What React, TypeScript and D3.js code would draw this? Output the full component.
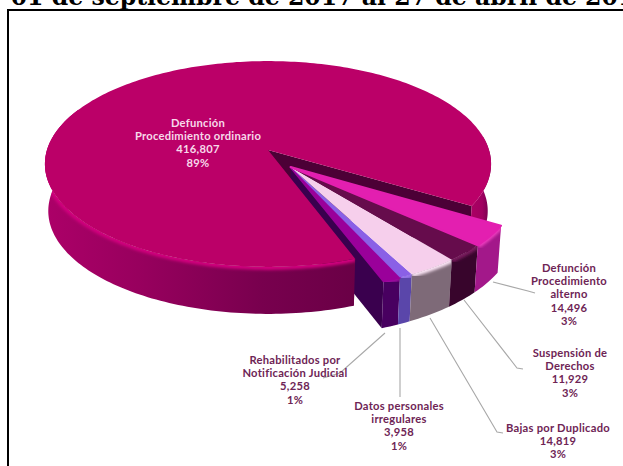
import React from "react";
import * as d3 from "d3";

// Folios by cause of cancellation, in drawing order (clockwise from the right).
const categories = [
  "Defunción Procedimiento alterno",
  "Suspensión de Derechos",
  "Bajas por Duplicado",
  "Datos personales irregulares",
  "Rehabilitados por Notificación Judicial",
  "Defunción Procedimiento ordinario",
];
const values = [14496, 11929, 14819, 3958, 5258, 416807];
const percents = ["3%", "3%", "3%", "1%", "1%", "89%"];
const labelLines = [
  ["Defunción", "Procedimiento", "alterno"],
  ["Suspensión de", "Derechos"],
  ["Bajas por Duplicado"],
  ["Datos personales", "irregulares"],
  ["Rehabilitados por", "Notificación Judicial"],
  ["Defunción", "Procedimiento ordinario"],
];
const topColors = ["#e31fb0", "#660c4c", "#f6cfec", "#8a60e6", "#9a009a", "#bb0068"];
const wallColors = ["#a3188a", "#38052c", "#7e6a78", "#5a46aa", "#480060", "#7a0050"];
const rimColors = ["#ee3cc0", "#7a1a5e", "#fbe4f5", "#9c78ee", "#a810a8", "#d2007e"];

const labelAnchors: [number, number][] = [
  [569, 268],
  [570, 353],
  [558, 428],
  [399, 406],
  [295, 360],
  [198, 123],
];
const leaders: [number, number][][] = [
  [[493, 282], [528, 291], [535, 293]],
  [[464, 300], [517, 368], [523, 369]],
  [[430, 318], [497, 432], [503, 433]],
  [[400, 328], [400, 397]],
  [[385, 333], [340, 373], [323, 378]],
];

const W = 623;
const H = 466;
const numberFormat = d3.format(",");

// Plane-to-screen perspective for the tilted disc.
const PERSPECTIVE = 0.136;
const x0 = d3.scaleLinear().domain([0, 1]).range([268, 268 + 221]);
const y0 = d3.scaleLinear().domain([0, 1]).range([150, 150 + 101]);
const DEPTH = 47;
const BOTTOM_SHRINK = 0.985;

type Pt = [number, number];
const project = (u: number, v: number): Pt => {
  const w = 1 - PERSPECTIVE * v;
  return [x0(u / w), y0(v / w)];
};
const lower = ([x, y]: Pt): Pt => [268 + (x - 268) * BOTTOM_SHRINK, y + DEPTH];

// d3.pie angles start at north; shift them so they read as screen angles from east.
const arcs = d3
  .pie<number>()
  .sort(null)
  .startAngle((121 * Math.PI) / 180)
  .endAngle((481 * Math.PI) / 180)(values);
const toTheta = (a: number) => a - Math.PI / 2;

const EXPLODED_OFFSET: Pt = [0.1, 0.165];
const offsetOf = (i: number): Pt => (i === 5 ? [0, 0] : EXPLODED_OFFSET);

const rim = (i: number, from: number, to: number): Pt[] => {
  const [ou, ov] = offsetOf(i);
  const n = Math.max(2, Math.ceil(Math.abs(to - from) / 0.02));
  return d3.range(n + 1).map((k) => {
    const t = from + ((to - from) * k) / n;
    return project(ou + Math.cos(t), ov + Math.sin(t));
  });
};
const apex = (i: number): Pt => project(...offsetOf(i));
const path = d3.line<Pt>();
const closed = (pts: Pt[]) => (path(pts) as string) + "Z";

const wallBetween = (i: number, from: number, to: number) => {
  const top = rim(i, from, to);
  return closed([...top, ...top.map(lower).reverse()]);
};
const cutWall = (i: number, theta: number) => {
  const a = apex(i);
  const r = rim(i, theta, theta)[0];
  return closed([a, r, lower(r), lower(a)]);
};
const topFace = (i: number, from: number, to: number) => closed([apex(i), ...rim(i, from, to)]);

const deg = Math.PI / 180;
const main = arcs[5];
const mainFrom = toTheta(main.startAngle);
const mainTo = toTheta(main.endAngle);
const purple = arcs[4];
const LEFT_END = 205 * deg;

function Label({ index }: { index: number }) {
  const [x, y] = labelAnchors[index];
  const lines = [...labelLines[index], numberFormat(values[index]), percents[index]];
  return (
    <text
      x={x}
      y={y}
      textAnchor="middle"
      fontFamily="Lato, 'Open Sans', sans-serif"
      fontWeight={700}
      fontSize={11.2}
      letterSpacing={0.25}
      fill={index === 5 ? "#f7d9ea" : "#6e2455"}
    >
      {lines.map((line, k) => (
        <tspan key={k} x={x} y={y + 4 + k * 13.2}>
          {line}
        </tspan>
      ))}
    </text>
  );
}

export default function App() {
  return (
    <svg
      width={W}
      height={H}
      viewBox={`0 0 ${W} ${H}`}
      style={{ position: "absolute", left: 0, top: 0, display: "block", background: "#fff" }}
    >
      <defs>
        <linearGradient id="mainFront" gradientUnits="userSpaceOnUse" x1={45} y1={0} x2={355} y2={0}>
          <stop offset="0" stopColor="#ac0068" />
          <stop offset="0.3" stopColor="#98005e" />
          <stop offset="0.7" stopColor="#78004e" />
          <stop offset="1" stopColor="#6a0046" />
        </linearGradient>
        <linearGradient id="mainRight" gradientUnits="userSpaceOnUse" x1={462} y1={0} x2={491} y2={0}>
          <stop offset="0" stopColor="#b40066" />
          <stop offset="0.7" stopColor="#a00060" />
          <stop offset="1" stopColor="#6a004a" />
        </linearGradient>
        <filter id="soft" x="-10%" y="-10%" width="120%" height="120%">
          <feGaussianBlur stdDeviation="1.6" />
        </filter>
        <clipPath id="mainFrontClip">
          <path d={wallBetween(5, mainFrom, LEFT_END)} />
        </clipPath>
        {[0, 1, 2, 3, 4].map((i) => (
          <clipPath id={`wallClip${i}`} key={i}>
            <path d={wallBetween(i, toTheta(arcs[i].startAngle), toTheta(arcs[i].endAngle))} />
          </clipPath>
        ))}
      </defs>

      <text
        x={-10}
        y={5}
        fontFamily="'DejaVu Serif', serif"
        fontWeight={700}
        fontSize={23.6}
        fill="#000"
      >
        r 01 de septiembre de 2017 al 27 de abril de 2018
      </text>
      <path d={`M8 ${H}V10H${W}`} fill="none" stroke="#000" strokeWidth={2} />

      {/* Cut walls of the large slice, then the detached left wall they sit behind */}
      <path d={cutWall(5, mainTo)} fill="#4c0036" />
      <path d={cutWall(5, mainFrom)} fill="#5a003e" />
      <path d={cutWall(4, toTheta(purple.endAngle))} fill="#3a004e" />

      {/* Large slice: outer wall, rim highlight and face */}
      <path d={wallBetween(5, mainFrom, LEFT_END)} fill="url(#mainFront)" />
      <path d={wallBetween(5, -8 * deg, 31 * deg)} fill="url(#mainRight)" />
      <g clipPath="url(#mainFrontClip)">
        <path
          d={path(rim(5, mainFrom, LEFT_END)) as string}
          fill="none"
          stroke={rimColors[5]}
          strokeWidth={6}
          filter="url(#soft)"
        />
      </g>
      <path d={topFace(5, mainFrom, mainTo)} fill={topColors[5]} />

      {/* Detached slices: outer walls with their rim light, then faces */}
      {[4, 3, 2, 1, 0].map((i) => {
        const from = toTheta(arcs[i].startAngle);
        const to = toTheta(arcs[i].endAngle);
        return (
          <g key={categories[i]}>
            <path d={wallBetween(i, from, to)} fill={wallColors[i]} />
            <g clipPath={`url(#wallClip${i})`}>
              <path
                d={path(rim(i, from, to)) as string}
                fill="none"
                stroke={rimColors[i]}
                strokeWidth={6}
                filter="url(#soft)"
              />
            </g>
          </g>
        );
      })}
      {[4, 3, 2, 1, 0].map((i) => (
        <path
          key={i}
          d={topFace(i, toTheta(arcs[i].startAngle), toTheta(arcs[i].endAngle))}
          fill={topColors[i]}
          stroke={i === 0 || i === 4 ? topColors[i] : "none"}
          strokeWidth={2}
          strokeLinejoin="round"
        />
      ))}

      {leaders.map((pts, i) => (
        <path key={i} d={path(pts as Pt[]) as string} fill="none" stroke="#a8a8a8" strokeWidth={1.1} />
      ))}
      {categories.map((_, i) => (
        <Label key={i} index={i} />
      ))}
    </svg>
  );
}
